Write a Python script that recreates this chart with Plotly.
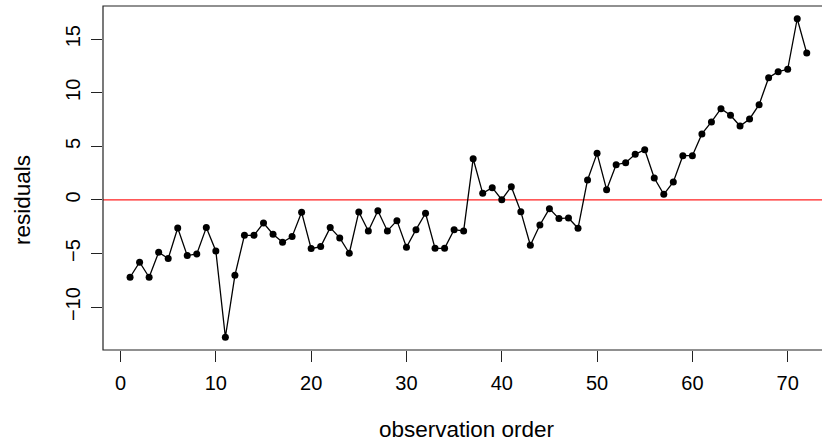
import plotly.graph_objects as go

obs = list(range(1, 73))
residuals = [-7.21, -5.81, -7.21, -4.88, -5.47, -2.61, -5.19, -5.04, -2.58, -4.76,
             -12.81, -7.03, -3.30, -3.30, -2.15, -3.20, -3.95, -3.42, -1.15, -4.54,
             -4.35, -2.58, -3.54, -4.97, -1.12, -2.89, -1.00, -2.89, -1.93, -4.41,
             -2.77, -1.24, -4.51, -4.51, -2.77, -2.89, 3.85, 0.62, 1.15, 0.03,
             1.24, -1.09, -4.23, -2.33, -0.81, -1.74, -1.68, -2.64, 1.87, 4.35,
             0.96, 3.29, 3.48, 4.26, 4.69, 2.05, 0.53, 1.68, 4.13, 4.13,
             6.16, 7.28, 8.52, 7.90, 6.90, 7.56, 8.89, 11.41, 11.97, 12.19,
             16.91, 13.71]
x_ticks = [0, 10, 20, 30, 40, 50, 60, 70]
y_ticks = [-10, -5, 0, 5, 10, 15]
y_tick_text = ["\u221210", "\u22125", "0", "5", "10", "15"]

FONT = "Liberation Sans, Arial, Helvetica, sans-serif"

fig = go.Figure()
fig.add_trace(go.Scatter(
    x=obs, y=residuals, mode="lines+markers",
    line=dict(color="black", width=1.3),
    marker=dict(color="black", size=7),
    showlegend=False, hoverinfo="x+y",
))

fig.add_shape(type="line", xref="paper", yref="y", x0=0, x1=1, y0=0, y1=0,
              line=dict(color="#ff2020", width=1.3), layer="below")
fig.add_shape(type="rect", xref="paper", yref="paper", x0=0, x1=1.05, y0=0, y1=1,
              line=dict(color="#222222", width=1.2), layer="above")

fig.update_layout(
    width=822, height=444,
    margin=dict(l=103, r=0, t=6, b=94, autoexpand=False),
    plot_bgcolor="white", paper_bgcolor="white",
    font=dict(family=FONT, color="black", size=20),
    xaxis=dict(range=[-1.84, 73.6], tickvals=x_ticks, ticks="outside", ticklen=11,
               tickwidth=1, tickcolor="#222222", showgrid=False, zeroline=False,
               showline=False, automargin=False, ticklabelstandoff=4,
               tickfont=dict(size=20, family=FONT)),
    yaxis=dict(range=[-14.0, 18.1], tickvals=y_ticks, ticktext=y_tick_text,
               ticks="outside", ticklen=11, tickwidth=1, tickcolor="#222222",
               showgrid=False, zeroline=False, showline=False, tickangle=-90,
               automargin=False, ticklabelstandoff=3,
               tickfont=dict(size=20, family=FONT)),
    annotations=[
        dict(text="observation order", xref="paper", yref="paper",
             x=(467 - 103) / 719, y=-(429 - 350) / 344, xanchor="center", yanchor="middle",
             showarrow=False, font=dict(size=22.5, family=FONT, color="black")),
        dict(text="residuals", xref="paper", yref="paper",
             x=-(103 - 22) / 719, y=(350 - 200) / 344, xanchor="center", yanchor="middle",
             textangle=-90, showarrow=False, font=dict(size=22.5, family=FONT, color="black")),
    ],
)

fig.write_html("out.html", config={"displayModeBar": False},
               post_script="document.body.style.margin='0';document.body.style.padding='0';")
